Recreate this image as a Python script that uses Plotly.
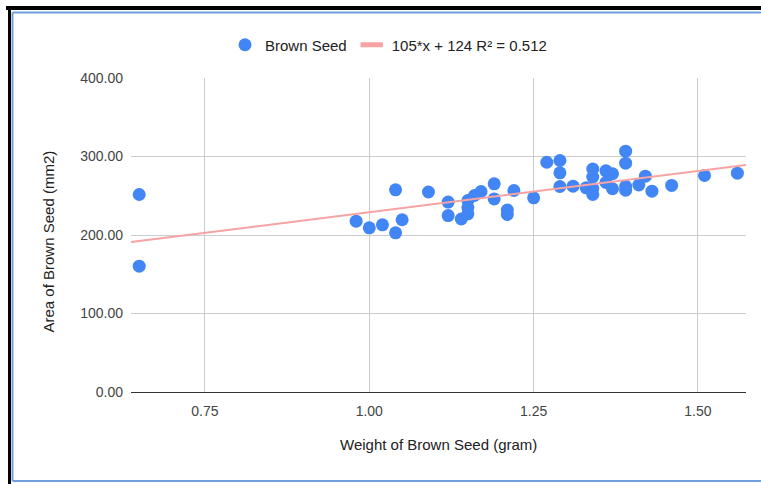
import plotly.graph_objects as go

# Data
weight = [0.65, 0.65, 0.98, 1.00, 1.02, 1.04, 1.05, 1.04, 1.09, 1.12, 1.12, 1.14,
          1.15, 1.15, 1.15, 1.16, 1.17, 1.19, 1.19, 1.21, 1.21, 1.22, 1.25, 1.27,
          1.29, 1.29, 1.29, 1.31, 1.33, 1.34, 1.34, 1.34, 1.34, 1.36, 1.37, 1.36,
          1.37, 1.39, 1.39, 1.39, 1.39, 1.41, 1.42, 1.43, 1.46, 1.51, 1.56]
area = [251.6, 160.3, 217.6, 209.2, 213.0, 202.8, 219.4, 257.6, 254.8, 242.0, 224.8, 220.4,
        243.9, 235.0, 227.0, 250.3, 255.4, 265.2, 245.9, 231.8, 226.1, 256.7, 247.4, 292.7,
        294.9, 279.2, 261.8, 262.2, 260.1, 284.1, 273.9, 259.2, 251.6, 281.8, 278.0, 266.9,
        258.9, 306.8, 291.5, 262.0, 257.0, 263.7, 274.9, 255.8, 263.1, 275.8, 278.7]

slope = 105
intercept = 124
r2 = 0.512
x_range = [0.6375, 1.5731]
y_range = [0, 400]
x_ticks = [0.75, 1.00, 1.25, 1.50]
y_ticks = [0, 100, 200, 300, 400]

W, H = 761, 484
L, R, T, B = 131, 15, 78, 92
PW, PH = W - L - R, H - T - B

def px(x):
    return (x - L) / PW

def py(y):
    return (H - B - y) / PH

BLUE = "#4285f4"
PINK = "#f8a3a3"
FONT = "Liberation Sans, Arial, sans-serif"

fig = go.Figure()
fig.add_trace(go.Scatter(
    x=weight, y=area, mode="markers", name="Brown Seed",
    marker=dict(color=BLUE, size=13, line=dict(width=0)),
))
trend_x = x_range
trend_y = [slope * v + intercept for v in trend_x]
trend_name = f"{slope}*x + {intercept} R² = {r2}"
fig.add_trace(go.Scatter(
    x=trend_x, y=trend_y, mode="lines", name=trend_name,
    line=dict(color=PINK, width=2), showlegend=False,
))
# legend entry for the trendline (short thick bar, like the original)
fig.add_trace(go.Scatter(
    x=[None], y=[None], mode="markers", name=trend_name,
    marker=dict(symbol="line-ew", size=16, color=PINK, line=dict(width=6, color=PINK)),
))

shapes = [
    dict(type="rect", xref="paper", yref="paper", x0=px(6), x1=px(761), y0=py(10), y1=py(6),
         fillcolor="black", line=dict(width=0), layer="above"),
    dict(type="rect", xref="paper", yref="paper", x0=px(8), x1=px(11), y0=py(484), y1=py(6),
         fillcolor="black", line=dict(width=0), layer="above"),
    dict(type="line", xref="paper", yref="paper", x0=px(12.5), x1=px(761), y0=py(12.5), y1=py(12.5),
         line=dict(color="#6f9fdc", width=2), layer="above"),
    dict(type="line", xref="paper", yref="paper", x0=px(12.5), x1=px(12.5), y0=py(12.5), y1=py(481),
         line=dict(color="#6f9fdc", width=2), layer="above"),
    dict(type="line", xref="paper", yref="paper", x0=px(12.5), x1=px(761), y0=py(481), y1=py(481),
         line=dict(color="#6f9fdc", width=2), layer="above"),
]

annotations = [
    dict(text="Weight of Brown Seed (gram)", xref="paper", yref="paper",
         x=px(438.5), y=py(444), xanchor="center", yanchor="middle", showarrow=False,
         font=dict(family=FONT, size=15, color="#222222")),
    dict(text="Area of Brown Seed (mm2)", xref="paper", yref="paper",
         x=px(48), y=py(241.5), xanchor="center", yanchor="middle", showarrow=False,
         textangle=-90, font=dict(family=FONT, size=15, color="#222222")),
]

fig.update_layout(
    width=W, height=H,
    margin=dict(l=L, r=R, t=T, b=B),
    paper_bgcolor="white", plot_bgcolor="white",
    font=dict(family=FONT, size=14, color="#444444"),
    showlegend=True,
    legend=dict(orientation="h", x=px(225), xanchor="left", y=py(45), yanchor="middle",
                font=dict(family=FONT, size=15, color="#222222"), itemwidth=30),
    shapes=shapes, annotations=annotations,
    xaxis=dict(range=x_range, tickvals=x_ticks, tickformat=".2f", showgrid=True,
               gridcolor="#cccccc", gridwidth=1, zeroline=False, showline=True,
               linecolor="#333333", linewidth=1, ticks="", ticklabelstandoff=6,
               tickfont=dict(family=FONT, size=14, color="#444444")),
    yaxis=dict(range=y_range, tickvals=y_ticks, tickformat=".2f", showgrid=True,
               gridcolor="#cccccc", gridwidth=1, zeroline=False, showline=False,
               ticks="", ticklabelstandoff=7,
               tickfont=dict(family=FONT, size=14, color="#444444")),
)

fig.write_html("out.html")
